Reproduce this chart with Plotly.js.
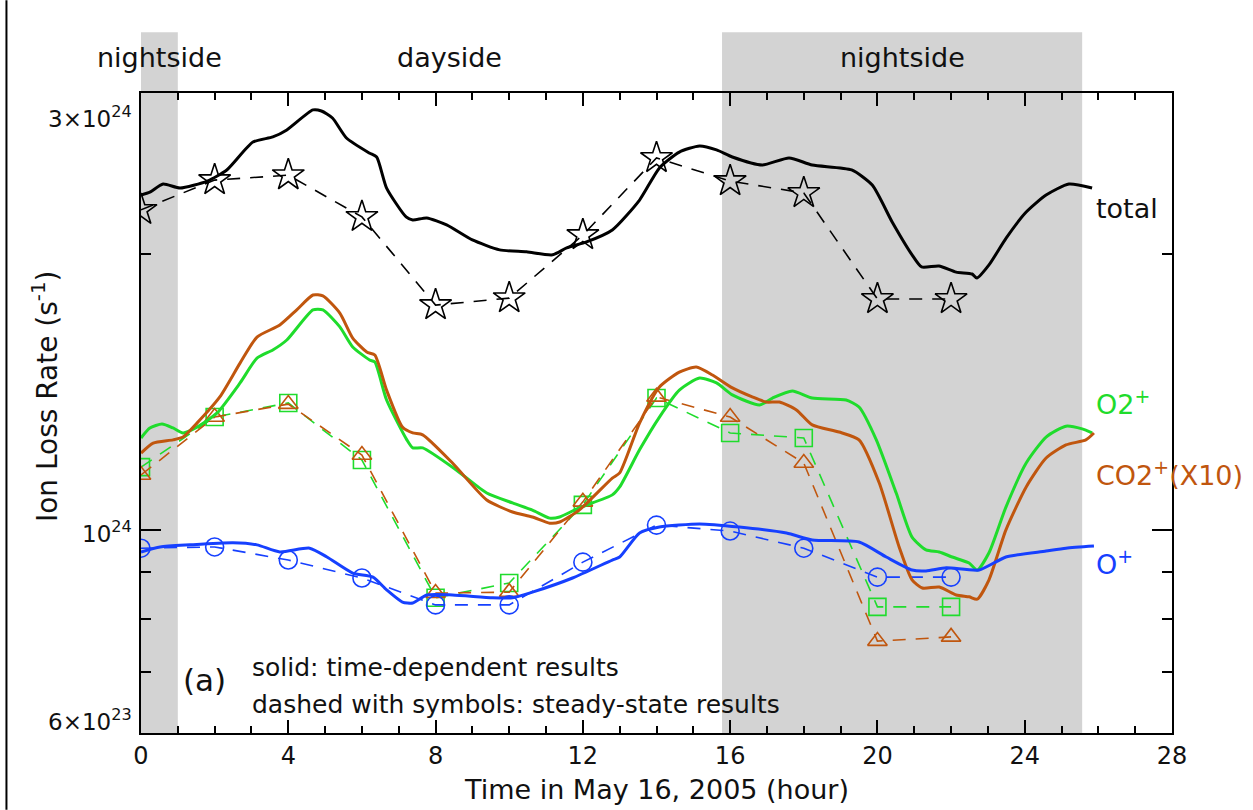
<!DOCTYPE html>
<html>
<head>
<meta charset="utf-8">
<script src="https://cdn.plot.ly/plotly-3.0.1.min.js"></script>
<style>
  html, body { margin: 0; padding: 0; background: #ffffff; }
  #chart { width: 1253px; height: 810px; }
</style>
</head>
<body>
<div id="chart"></div>
<script>
// Ion loss rates (units of 10^24 s^-1) versus time on May 16, 2005 (hours)

// Time-dependent results (solid lines)
const totalHours = [0, 0.24, 0.6, 1.06, 1.8, 2.33, 3.04, 3.58, 3.96, 4.67, 4.9, 5.2, 5.58, 6.2, 6.4, 6.67, 7.2, 7.38, 7.76, 8.3, 9.0, 9.74, 10.47, 11.18, 11.56, 12.1, 12.8, 13.54, 14.08, 14.62, 15.17, 15.63, 16.06, 16.87, 17.6, 18.23, 19.3, 19.86, 20.4, 20.94, 21.2, 21.67, 22.14, 22.57, 22.7, 23.03, 23.5, 24.04, 24.58, 25.2, 25.83];
const totalRate = [2.321, 2.338, 2.386, 2.362, 2.404, 2.472, 2.652, 2.686, 2.734, 2.875, 2.867, 2.817, 2.679, 2.580, 2.554, 2.362, 2.197, 2.180, 2.191, 2.153, 2.073, 2.022, 2.012, 1.997, 2.032, 2.063, 2.126, 2.292, 2.485, 2.586, 2.626, 2.600, 2.554, 2.503, 2.548, 2.503, 2.472, 2.380, 2.169, 1.997, 1.937, 1.942, 1.912, 1.903, 1.884, 1.947, 2.084, 2.224, 2.321, 2.386, 2.362];

const o2Hours = [0, 0.24, 0.57, 0.87, 1.14, 1.52, 2.06, 2.69, 3.15, 3.58, 3.96, 4.67, 4.94, 5.4, 5.75, 6.21, 6.35, 6.67, 7.22, 7.38, 7.65, 8.57, 9.39, 10.09, 10.63, 11.1, 11.37, 11.9, 12.8, 13.0, 13.54, 14.08, 14.62, 15.17, 15.63, 16.06, 16.8, 17.15, 17.69, 18.23, 19.15, 19.5, 19.97, 20.51, 20.94, 21.32, 21.68, 22.03, 22.49, 22.71, 23.03, 23.49, 24.04, 24.58, 25.12, 25.56, 25.83];
const o2Rate = [1.260, 1.292, 1.305, 1.292, 1.276, 1.295, 1.341, 1.447, 1.540, 1.572, 1.612, 1.739, 1.739, 1.666, 1.584, 1.533, 1.525, 1.386, 1.254, 1.229, 1.229, 1.162, 1.097, 1.070, 1.051, 1.030, 1.033, 1.057, 1.092, 1.114, 1.223, 1.328, 1.421, 1.465, 1.447, 1.404, 1.369, 1.393, 1.418, 1.393, 1.386, 1.362, 1.254, 1.097, 0.982, 0.951, 0.946, 0.934, 0.920, 0.904, 0.944, 1.059, 1.183, 1.263, 1.298, 1.289, 1.276];

// CO2+ is plotted multiplied by 10
const co2Hours = [0, 0.33, 0.87, 1.14, 1.52, 2.14, 2.69, 3.15, 3.77, 4.23, 4.67, 4.94, 5.4, 5.75, 6.13, 6.35, 6.67, 7.1, 7.38, 7.65, 8.46, 9.39, 10.09, 10.63, 11.1, 11.37, 11.9, 12.8, 13.0, 13.54, 14.08, 14.62, 15.08, 15.52, 16.06, 16.6, 16.98, 17.34, 17.8, 18.23, 18.96, 19.5, 20.05, 20.59, 20.94, 21.22, 21.68, 22.14, 22.49, 22.71, 23.03, 23.49, 24.04, 24.58, 25.12, 25.66, 25.88];
const co2x10Rate = [1.213, 1.244, 1.254, 1.263, 1.308, 1.397, 1.521, 1.624, 1.674, 1.739, 1.805, 1.801, 1.725, 1.620, 1.564, 1.552, 1.421, 1.295, 1.276, 1.270, 1.183, 1.078, 1.046, 1.033, 1.017, 1.020, 1.051, 1.139, 1.154, 1.308, 1.432, 1.487, 1.506, 1.476, 1.429, 1.397, 1.379, 1.379, 1.352, 1.302, 1.279, 1.254, 1.125, 0.958, 0.882, 0.864, 0.866, 0.849, 0.845, 0.840, 0.882, 1.000, 1.114, 1.198, 1.238, 1.254, 1.276];

const oHours = [0, 0.52, 1.33, 2.5, 3.15, 3.77, 4.58, 5.05, 5.75, 6.3, 6.67, 7.1, 7.38, 7.76, 8.46, 9.55, 10.09, 10.63, 11.72, 12.8, 13.0, 13.54, 14.08, 15.17, 16.25, 17.53, 18.23, 19.5, 20.24, 20.94, 21.32, 21.87, 22.76, 23.49, 24.58, 25.12, 25.88];
const oRate = [0.946, 0.958, 0.963, 0.968, 0.963, 0.946, 0.955, 0.934, 0.897, 0.888, 0.860, 0.834, 0.832, 0.849, 0.849, 0.843, 0.843, 0.855, 0.886, 0.927, 0.934, 0.992, 1.007, 1.015, 1.007, 0.992, 0.975, 0.970, 0.934, 0.904, 0.902, 0.909, 0.904, 0.934, 0.948, 0.955, 0.960];

// Steady-state results (dashed lines with symbols), every 2 hours
const steadyHours = [0, 2, 4, 6, 8, 10, 12, 14, 16, 18, 20, 22];
const steadyTotal = [2.236, 2.410, 2.440, 2.197, 1.760, 1.791, 2.099, 2.548, 2.404, 2.333, 1.787, 1.787];
const steadyO2 = [1.171, 1.328, 1.376, 1.192, 0.843, 0.875, 1.065, 1.393, 1.276, 1.260, 0.824, 0.824];
const steadyCO2x10 = [1.148, 1.328, 1.372, 1.207, 0.853, 0.855, 1.073, 1.397, 1.328, 1.183, 0.756, 0.764];
const steadyO = [0.955, 0.958, 0.927, 0.886, 0.828, 0.828, 0.922, 1.012, 0.997, 0.955, 0.888, 0.888];

// Nightside intervals (hours)
const nightIntervals = [[0, 1.0], [15.78, 25.56]];

// Axis tick values
const xTicks = [0, 4, 8, 12, 16, 20, 24, 28];
const yTickVals = [6e23, 1e24, 3e24];
const yTickText = ['6×10<sup>23</sup>', '10<sup>24</sup>', '3×10<sup>24</sup>'];
const yMinorVals = [7e23, 8e23, 9e23, 2e24];

const UNIT = 1e24;
const FONT = 'DejaVu Sans, sans-serif';
const TEXT = '#111111';
const BLACK = '#000000';
const GREEN = '#1fdc2c';
const BROWN = '#c0560e';
const BLUE = '#1640ff';

function scaled(arr) { return arr.map(v => v * UNIT); }

function solid(x, y, color) {
  return { x: x, y: scaled(y), mode: 'lines', type: 'scatter', line: { color: color, width: 3, shape: 'spline', smoothing: 0.6 }, hoverinfo: 'x+y', showlegend: false };
}
function steady(y, color, symbol, size) {
  return {
    x: steadyHours, y: scaled(y), mode: 'lines+markers', type: 'scatter',
    line: { color: color, width: 1.6, dash: '13px,10px' },
    marker: { symbol: symbol, size: size, color: color, line: { color: color, width: 1.6 } },
    showlegend: false
  };
}

const traces = [
  steady(steadyO2, GREEN, 'square-open', 17),
  steady(steadyCO2x10, BROWN, 'triangle-up-open', 17),
  steady(steadyO, BLUE, 'circle-open', 18),
  steady(steadyTotal, BLACK, 'star-open', 24),
  solid(o2Hours, o2Rate, GREEN),
  solid(co2Hours, co2x10Rate, BROWN),
  solid(oHours, oRate, BLUE),
  solid(totalHours, totalRate, BLACK)
];

const shapes = nightIntervals.map(([a, b]) => ({
  type: 'rect', xref: 'x', yref: 'paper', x0: a, x1: b, y0: 0, y1: 1.095,
  fillcolor: '#d3d3d3', line: { width: 0 }, layer: 'below'
}));

function label(text, x, y, color, size, xanchor, angle) {
  return { text: text, xref: 'paper', yref: 'paper', x: x, y: y, showarrow: false,
           textangle: angle || 0,
           xanchor: xanchor || 'left', yanchor: 'middle', font: { family: FONT, size: size, color: color } };
}

// y tick labels sit just inside the axis ends, as in the printed figure
const yLabelShift = [13, -2, -24];
const yTickLabels = yTickVals.map((v, i) => ({
  text: yTickText[i], xref: 'paper', yref: 'y', x: 0, y: Math.log10(v),
  xanchor: 'right', yanchor: 'middle', xshift: -7, yshift: yLabelShift[i], showarrow: false,
  font: { family: FONT, size: 23, color: TEXT }
}));

const annotations = [
  label('nightside', 0.018, 1.055, TEXT, 27, 'center'),
  label('dayside', 0.299, 1.055, TEXT, 27, 'center'),
  label('nightside', 0.739, 1.055, TEXT, 27, 'center'),
  label('total', 0.924, 0.819, TEXT, 27),
  label('O2<sup>+</sup>', 0.924, 0.517, GREEN, 27),
  label('CO2<sup>+</sup>(X10)', 0.924, 0.405, BROWN, 27),
  label('O<sup>+</sup>', 0.924, 0.266, BLUE, 27),
  label('(a)', 0.062, 0.083, TEXT, 31, 'center'),
  label('solid: time-dependent results', 0.106, 0.102, TEXT, 25),
  label('dashed with symbols: steady-state results', 0.106, 0.044, TEXT, 25),
  label('Time in May 16, 2005 (hour)', 0.5, -0.088, TEXT, 27, 'center'),
  label('Ion Loss Rate (s<sup>-1</sup>)', -0.093, 0.525, TEXT, 28, 'center', -90)
].concat(yTickLabels);

const layout = {
  width: 1253, height: 810,
  margin: { l: 141, r: 81, t: 93, b: 77 },
  paper_bgcolor: '#ffffff', plot_bgcolor: 'rgba(0,0,0,0)',
  font: { family: FONT, color: TEXT, size: 22 },
  showlegend: false,
  xaxis: {
    range: [0, 28], tickmode: 'array', tickvals: xTicks, ticks: 'inside', ticklen: 13, tickwidth: 2,
    tickcolor: BLACK, showline: true, linecolor: BLACK, linewidth: 2, mirror: 'allticks',
    showgrid: false, zeroline: false, tickfont: { family: FONT, size: 24, color: TEXT },
    minor: { dtick: 1, tick0: 0, ticks: 'inside', ticklen: 7, tickwidth: 2, tickcolor: BLACK, showgrid: false }
  },
  yaxis: {
    type: 'log', range: [Math.log10(6e23), Math.log10(3e24)],
    tickmode: 'array', tickvals: yTickVals, showticklabels: false,
    ticks: 'inside', ticklen: 20, tickwidth: 2, tickcolor: BLACK,
    showline: true, linecolor: BLACK, linewidth: 2, mirror: 'allticks',
    showgrid: false, zeroline: false,
    minor: { tickmode: 'array', tickvals: yMinorVals, ticks: 'inside', ticklen: 10, tickwidth: 2, tickcolor: BLACK, showgrid: false }
  },
  shapes: shapes.concat([
    { type: 'line', xref: 'paper', yref: 'paper', x0: -0.1305, x1: -0.1305, y0: -0.12, y1: 1.145, line: { color: BLACK, width: 2 } }
  ]),
  annotations: annotations
};

Plotly.newPlot('chart', traces, layout, { displayModeBar: false, staticPlot: true });
</script>
</body>
</html>
